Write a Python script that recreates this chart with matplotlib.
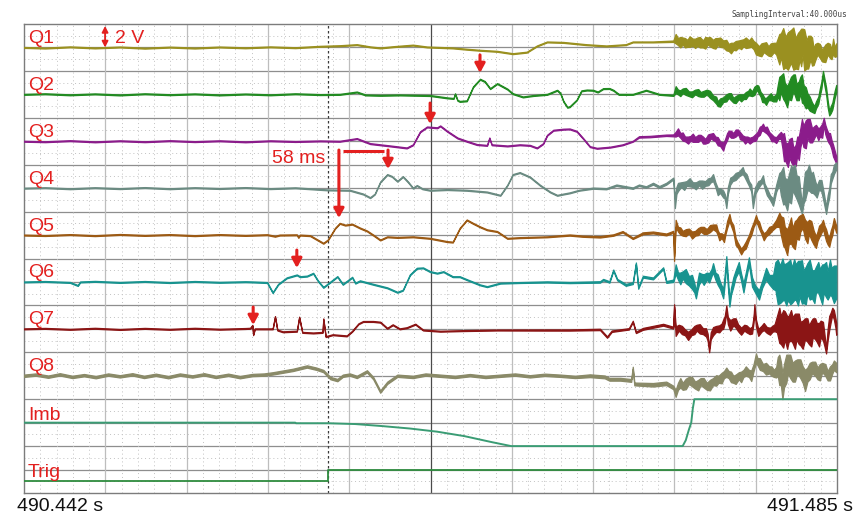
import numpy as np
import matplotlib
matplotlib.use("Agg")
import matplotlib.pyplot as plt

plt.rcParams['font.family'] = ['Liberation Sans', 'DejaVu Sans']

# ---------------- data ----------------
T_LEFT_LABEL = "490.442 s"
T_RIGHT_LABEL = "491.485 s"
SPAN_MS = 1043.0          # 491.485 s - 490.442 s
TRIGGER_MS = 390
SAMPLING = "SamplingInterval:40.000us"

CHANNELS = ["Q1", "Q2", "Q3", "Q4", "Q5", "Q6", "Q7", "Q8", "Imb", "Trig"]
COLORS = ["#9a9020", "#228b22", "#8b1c8b", "#6b8b82", "#9c5a14",
          "#18938f", "#8b1515", "#8a8a68", "#3a9c74", "#2e8b3e"]

# each entry: (time in ms from 490.442 s, value in V, noise half-width in V)
Q1 = [(0, 0.0, 0.04), (27, -0.05, 0.04), (59, 0.05, 0.04), (91, -0.04, 0.04), (123, 0.04, 0.04),
      (155, -0.06, 0.04), (187, 0.03, 0.04), (219, -0.05, 0.04), (251, 0.04, 0.04), (284, -0.03, 0.04),
      (316, 0.05, 0.04), (348, -0.02, 0.04), (380, 0.1, 0.04), (405, 0.15, 0.04), (427, 0.24, 0.04),
      (444, 0.05, 0.04), (457, -0.04, 0.04), (476, 0.08, 0.04), (499, 0.2, 0.04), (517, 0.04, 0.04),
      (534, 0.0, 0.04), (550, -0.04, 0.04), (568, -0.15, 0.04), (585, -0.24, 0.04), (607, -0.33, 0.04),
      (627, -0.53, 0.04), (645, -0.4, 0.04), (658, 0.13, 0.04), (671, 0.47, 0.04), (692, 0.43, 0.04),
      (721, 0.24, 0.04), (747, 0.13, 0.04), (772, 0.24, 0.04), (781, 0.47, 0.04), (807, 0.47, 0.04),
      (833, 0.53, 0.06),
      (836, 0.75, 0.4), (839, 0.5, 0.3), (842, 0.45, 0.45), (845, 0.55, 0.3), (848, 0.4, 0.4),
      (851, 0.35, 0.3), (854, 0.5, 0.45), (858, 0.45, 0.3), (861, 0.35, 0.4), (864, 0.5, 0.35),
      (867, 0.45, 0.45), (871, 0.3, 0.3), (874, 0.4, 0.5), (877, 0.55, 0.3), (880, 0.5, 0.4),
      (884, 0.3, 0.35), (887, 0.35, 0.45), (890, 0.5, 0.3), (893, 0.45, 0.4), (897, 0.3, 0.3),
      (901, 0.2, 0.45), (904, 0.0, 0.3), (907, -0.05, 0.45), (910, 0.1, 0.3), (913, 0.15, 0.4),
      (917, 0.3, 0.3), (920, 0.25, 0.4), (923, 0.4, 0.3), (926, 0.4, 0.45), (930, 0.3, 0.3),
      (933, 0.45, 0.4), (936, 0.2, 0.35), (939, -0.1, 0.5), (943, -0.3, 0.4), (946, -0.2, 0.55),
      (949, 0.0, 0.4), (952, -0.05, 0.5), (955, -0.3, 0.4), (958, -0.2, 0.55), (962, 0.0, 0.4),
      (965, -0.1, 0.5), (969, -0.15, 1.3), (971, 0.2, 1.0), (974, -0.1, 1.75), (977, -0.4, 1.3),
      (980, -0.3, 1.6), (984, 0.1, 1.4), (987, -0.1, 1.8), (990, -0.5, 1.3), (993, -0.3, 1.55),
      (995, 0.2, 1.2), (997, 0.0, 1.6), (999, 0.5, 1.1), (1001, -0.2, 1.75), (1004, -0.6, 1.2),
      (1006, -0.4, 1.4), (1009, 0.0, 1.0), (1011, -0.35, 1.2), (1013, -0.8, 0.7), (1015, -0.4, 0.7),
      (1018, -0.1, 0.5), (1021, -0.3, 0.6), (1024, -0.7, 0.5), (1028, -0.5, 0.75), (1031, -0.1, 0.5),
      (1034, -0.3, 0.6), (1036, -0.6, 0.4), (1038, 0.1, 0.65), (1040, -0.4, 0.4), (1042, -0.2, 0.55)]

Q2 = [(0, 0.0, 0.04), (27, 0.05, 0.04), (59, -0.04, 0.04), (91, 0.04, 0.04), (123, -0.05, 0.04),
      (155, 0.05, 0.04), (187, -0.03, 0.04), (219, 0.04, 0.04), (251, -0.05, 0.04), (284, 0.03, 0.04),
      (316, -0.04, 0.04), (348, 0.05, 0.04), (380, -0.02, 0.04), (405, 0.0, 0.04), (427, 0.2, 0.04),
      (438, -0.05, 0.04), (457, -0.08, 0.04), (482, -0.05, 0.04), (521, -0.1, 0.04), (543, -0.3, 0.04),
      (551, -0.35, 0.04), (553, 0.05, 0.04), (556, -0.5, 0.04), (559, -0.6, 0.04), (568, -0.55, 0.04),
      (576, 0.63, 0.04), (585, 1.29, 0.04), (591, 1.1, 0.04), (598, 0.49, 0.04), (607, 0.92, 0.04),
      (620, 0.45, 0.04), (627, 0.06, 0.04), (640, -0.22, 0.04), (653, -0.1, 0.04), (671, 0.0, 0.04),
      (684, 0.35, 0.04), (688, 0.1, 0.04), (692, -0.6, 0.04), (697, -1.1, 0.04), (700, -1.05, 0.04),
      (709, -0.48, 0.04), (715, 0.3, 0.04), (722, 0.37, 0.04), (730, 0.35, 0.04), (736, 0.2, 0.04),
      (743, 0.49, 0.04), (751, 0.5, 0.04), (756, 0.35, 0.04), (763, 0.0, 0.04), (772, 0.0, 0.04),
      (781, 0.0, 0.04), (798, 0.35, 0.04), (815, 0.0, 0.04), (833, -0.08, 0.05),
      (836, 0.4, 0.3), (839, 0.2, 0.2), (842, 0.1, 0.25), (845, 0.3, 0.2), (849, 0.25, 0.3),
      (853, 0.05, 0.2), (857, 0.0, 0.25), (861, 0.2, 0.2), (865, 0.15, 0.3), (868, 0.0, 0.2),
      (872, 0.05, 0.25), (876, 0.2, 0.2), (880, 0.0, 0.3), (884, -0.3, 0.2), (888, -0.5, 0.3),
      (890, -0.8, 0.2), (893, -0.7, 0.35), (897, -0.45, 0.2), (901, -0.3, 0.3), (904, -0.1, 0.2),
      (907, -0.2, 0.3), (910, -0.5, 0.2), (913, -0.45, 0.3), (917, -0.2, 0.2), (920, -0.3, 0.3),
      (923, -0.2, 0.2), (926, -0.1, 0.3), (929, 0.1, 0.2), (931, 0.2, 0.3), (934, 0.05, 0.2),
      (937, 0.3, 0.35), (940, 0.6, 0.2), (942, 0.45, 0.3), (945, 0.0, 0.2), (947, -0.3, 0.35),
      (950, -0.5, 0.2), (952, -0.6, 0.3), (955, -0.3, 0.2), (958, -0.2, 0.3), (961, -0.4, 0.2),
      (965, -0.3, 0.3), (967, 0.3, 0.5), (969, 0.5, 1.0), (971, 0.9, 0.7), (974, 0.7, 1.1),
      (976, 0.2, 0.8), (979, -0.2, 0.9), (981, 0.3, 0.7), (984, 0.5, 1.0), (987, 1.0, 0.7),
      (989, 0.8, 0.9), (991, 0.2, 0.7), (994, 0.3, 0.8), (996, 0.8, 0.7), (998, 0.5, 1.2),
      (1000, 0.0, 0.8), (1003, -0.3, 0.9), (1005, -0.5, 0.6), (1008, -0.8, 0.6), (1011, -1.1, 0.4),
      (1014, -1.3, 0.3), (1016, -0.9, 0.3), (1019, -0.5, 0.3), (1021, 0.2, 0.3), (1023, 0.8, 0.3),
      (1025, 1.8, 0.2), (1027, 1.0, 0.3), (1029, 0.3, 0.3), (1031, -0.8, 0.3), (1033, -1.6, 0.2),
      (1035, -1.3, 0.3), (1037, -1.0, 0.3), (1040, 0.0, 0.3), (1042, 0.5, 0.3)]

Q3 = [(0, 0.0, 0.04), (27, -0.04, 0.04), (59, 0.05, 0.04), (91, -0.05, 0.04), (123, 0.04, 0.04),
      (155, -0.04, 0.04), (187, 0.05, 0.04), (219, -0.03, 0.04), (251, 0.04, 0.04), (284, -0.05, 0.04),
      (316, 0.04, 0.04), (348, -0.02, 0.04), (380, 0.03, 0.04), (405, 0.0, 0.04), (427, 0.23, 0.04),
      (444, -0.2, 0.04), (470, -0.4, 0.04), (491, -0.57, 0.04), (499, -0.3, 0.04), (508, 0.8, 0.04),
      (517, 1.22, 0.04), (530, 1.15, 0.04), (534, 1.31, 0.04), (543, 0.85, 0.04), (556, 0.28, 0.04),
      (568, 0.0, 0.04), (581, -0.28, 0.04), (594, -0.35, 0.04), (597, 0.28, 0.04), (600, -0.3, 0.04),
      (620, -0.4, 0.04), (636, -0.3, 0.04), (649, -0.35, 0.04), (658, -0.57, 0.04), (666, -0.2, 0.04),
      (671, 0.51, 0.04), (679, 0.94, 0.04), (692, 1.03, 0.04), (700, 1.05, 0.04), (709, 0.85, 0.04),
      (717, 0.26, 0.04), (726, -0.46, 0.04), (735, -0.6, 0.04), (752, -0.5, 0.04), (768, -0.3, 0.04),
      (781, 0.0, 0.04), (789, 0.37, 0.06), (803, 0.4, 0.06), (824, 0.51, 0.06), (833, 0.5, 0.08),
      (836, 0.6, 0.2), (839, 0.8, 0.3), (842, 0.5, 0.2), (845, 0.4, 0.35), (848, 0.2, 0.2),
      (852, 0.1, 0.3), (855, 0.25, 0.2), (858, 0.3, 0.35), (861, 0.15, 0.2), (865, 0.25, 0.3),
      (868, 0.35, 0.2), (871, 0.1, 0.3), (874, 0.0, 0.2), (878, 0.25, 0.35), (881, 0.45, 0.2),
      (884, 0.4, 0.3), (887, 0.2, 0.2), (890, 0.0, 0.35), (893, -0.2, 0.2), (897, -0.45, 0.35),
      (899, -0.1, 0.2), (902, 0.4, 0.3), (904, 0.7, 0.2), (907, 0.6, 0.3), (910, 0.5, 0.2),
      (913, 0.7, 0.3), (916, 0.8, 0.2), (919, 0.45, 0.3), (922, 0.3, 0.2), (925, 0.1, 0.3),
      (928, 0.2, 0.2), (931, 0.05, 0.25), (935, 0.2, 0.2), (939, 0.35, 0.3), (941, 0.6, 0.2),
      (944, 0.9, 0.35), (946, 1.1, 0.2), (948, 1.2, 0.3), (950, 1.0, 0.2), (953, 0.95, 0.3),
      (956, 0.6, 0.2), (959, 0.3, 0.3), (962, 0.2, 0.2), (965, 0.1, 0.25), (968, 0.4, 0.2),
      (971, 0.5, 0.3), (973, 0.0, 0.6), (975, -0.5, 1.2), (977, -0.9, 0.8), (980, -1.2, 1.0),
      (982, -0.6, 0.8), (985, -0.8, 1.1), (987, -1.3, 0.7), (990, -1.2, 0.9), (992, -0.4, 0.8),
      (994, -0.6, 1.0), (996, 0.3, 0.8), (998, 1.0, 0.9), (1000, 0.4, 0.9), (1003, 0.6, 1.2),
      (1005, 1.1, 0.8), (1008, 0.9, 1.0), (1011, 0.5, 0.6), (1014, 0.8, 0.5), (1016, 1.0, 0.4),
      (1019, 0.6, 0.5), (1021, 0.8, 0.4), (1024, 0.9, 0.6), (1026, 1.7, 0.3), (1028, 1.0, 0.4),
      (1030, 0.6, 0.4), (1032, 0.3, 0.4), (1034, 0.2, 0.5), (1036, -0.3, 0.4), (1038, -0.8, 0.5),
      (1040, -1.2, 0.4), (1042, -1.6, 0.3)]

Q4 = [(0, 0.0, 0.04), (27, 0.04, 0.04), (59, -0.05, 0.04), (91, 0.04, 0.04), (123, -0.04, 0.04),
      (155, 0.05, 0.04), (187, -0.05, 0.04), (219, 0.04, 0.04), (251, -0.03, 0.04), (284, 0.05, 0.04),
      (316, -0.04, 0.04), (348, 0.03, 0.04), (390, -0.15, 0.04), (418, -0.18, 0.04), (435, -0.5, 0.04),
      (444, -0.81, 0.04), (450, -0.5, 0.04), (457, 0.53, 0.04), (466, 1.16, 0.04), (472, 1.0, 0.04),
      (479, 0.59, 0.04), (486, 0.99, 0.04), (493, 0.5, 0.04), (499, 0.0, 0.04), (504, 0.23, 0.04),
      (511, -0.05, 0.04), (521, -0.18, 0.04), (543, -0.12, 0.04), (568, -0.18, 0.04), (594, -0.33, 0.04),
      (611, -0.61, 0.04), (620, 0.25, 0.04), (627, 1.16, 0.04), (636, 1.33, 0.04), (649, 0.95, 0.04),
      (662, 0.25, 0.04), (675, -0.33, 0.04), (684, -0.61, 0.04), (692, -0.5, 0.04), (700, -0.4, 0.04),
      (712, -0.18, 0.04), (730, 0.0, 0.05), (747, -0.05, 0.05), (760, 0.25, 0.06), (781, 0.0, 0.06),
      (789, 0.25, 0.06), (798, 0.1, 0.06), (807, 0.38, 0.08), (815, 0.1, 0.08), (824, 0.38, 0.08),
      (833, 0.82, 0.08),
      (835, -1.3, 0.4), (837, -0.2, 0.3), (839, 0.1, 0.35), (843, 0.3, 0.2), (847, 0.2, 0.35),
      (850, 0.4, 0.2), (854, 0.5, 0.35), (858, 0.3, 0.2), (862, 0.2, 0.3), (866, 0.45, 0.2),
      (870, 0.3, 0.35), (874, 0.4, 0.2), (878, 0.55, 0.3), (881, 0.7, 0.2), (884, 0.9, 0.3),
      (887, 0.3, 0.2), (890, -0.3, 0.3), (893, -0.2, 0.2), (897, -0.5, 0.3), (899, -0.7, 0.2),
      (901, -1.4, 0.3), (903, -0.2, 0.3), (906, 0.6, 0.3), (909, 0.8, 0.2), (913, 1.0, 0.3),
      (917, 1.2, 0.2), (922, 1.5, 0.3), (924, 1.2, 0.2), (927, 0.9, 0.3), (930, 0.4, 0.2),
      (933, 0.0, 0.3), (935, -1.4, 0.3), (938, -0.2, 0.3), (942, 0.3, 0.3), (945, 0.5, 0.2),
      (948, 0.8, 0.3), (950, 0.2, 0.2), (953, -0.3, 0.3), (957, -0.8, 0.2), (961, -1.2, 0.3),
      (965, 0.0, 0.3), (969, 0.8, 0.5), (971, 0.4, 1.0), (974, 0.2, 1.6), (976, -0.2, 1.1),
      (979, -0.6, 1.3), (981, 0.0, 1.1), (984, 0.3, 1.6), (986, 0.8, 1.0), (989, 0.7, 1.3),
      (991, 0.1, 1.0), (994, -0.2, 1.2), (996, -1.0, 0.8), (998, -1.8, 0.4), (1000, -0.5, 0.8),
      (1002, 0.2, 1.2), (1005, 0.7, 0.9), (1007, 0.9, 1.1), (1010, 0.4, 0.8), (1012, 0.5, 0.9),
      (1015, 0.0, 0.6), (1017, -0.3, 0.5), (1020, 0.3, 0.4), (1023, 0.2, 0.5), (1026, -0.8, 0.4),
      (1029, -1.9, 0.3), (1031, -1.0, 0.4), (1033, -0.4, 0.4), (1035, 0.8, 0.4), (1037, 1.1, 0.3),
      (1039, 1.6, 0.4), (1042, 1.9, 0.3)]

Q5 = [(0, 0.0, 0.04), (27, -0.04, 0.04), (59, 0.04, 0.04), (91, -0.05, 0.04), (123, 0.05, 0.04),
      (155, -0.03, 0.04), (187, 0.04, 0.04), (219, -0.05, 0.04), (251, 0.04, 0.04), (284, -0.03, 0.04),
      (312, 0.03, 0.04), (322, -0.1, 0.04), (328, 0.0, 0.04), (350, 0.02, 0.04), (352, -0.2, 0.04),
      (354, 0.0, 0.04), (367, -0.05, 0.04), (384, -0.7, 0.04), (390, -0.4, 0.04), (399, 0.58, 0.04),
      (405, 1.0, 0.04), (412, 0.85, 0.04), (421, 0.93, 0.04), (431, 0.6, 0.04), (440, 0.35, 0.04),
      (448, 0.0, 0.04), (457, -0.42, 0.04), (466, -0.15, 0.04), (479, -0.2, 0.04), (499, -0.15, 0.04),
      (521, -0.28, 0.04), (543, -0.56, 0.04), (550, -0.6, 0.04), (559, 0.58, 0.04), (568, 1.29, 0.04),
      (576, 1.0, 0.04), (585, 0.7, 0.04), (594, 0.45, 0.04), (607, 0.3, 0.04), (620, -0.28, 0.04),
      (636, -0.22, 0.04), (671, -0.15, 0.04), (700, 0.0, 0.05), (717, -0.1, 0.05), (739, -0.15, 0.06),
      (756, 0.0, 0.06), (768, 0.28, 0.06), (781, -0.28, 0.06), (794, 0.15, 0.08), (807, 0.22, 0.08),
      (824, 0.05, 0.08), (833, 0.28, 0.08),
      (834, -2.0, 0.2), (836, 1.0, 0.3), (839, 0.5, 0.2), (842, 0.35, 0.3), (845, 0.15, 0.2),
      (849, 0.2, 0.3), (853, 0.35, 0.2), (857, 0.0, 0.3), (861, 0.15, 0.2), (865, 0.3, 0.3),
      (868, 0.5, 0.2), (872, 0.4, 0.3), (876, 0.3, 0.2), (880, 0.55, 0.3), (884, 0.7, 0.2),
      (888, 0.6, 0.3), (890, 0.2, 0.2), (892, -0.15, 0.3), (895, -0.05, 0.2), (898, -0.3, 0.3),
      (900, 0.3, 0.2), (902, 0.9, 0.3), (905, 1.5, 0.3), (907, 1.0, 0.2), (910, 0.55, 0.3),
      (913, -0.55, 0.3), (916, -0.9, 0.2), (920, -1.4, 0.25), (923, -1.1, 0.2), (926, -0.85, 0.3),
      (930, -0.2, 0.2), (933, 0.3, 0.3), (936, 0.9, 0.2), (939, 1.4, 0.3), (941, 1.1, 0.2),
      (943, 0.85, 0.3), (946, 0.3, 0.2), (949, -0.15, 0.3), (952, 0.1, 0.2), (956, 0.4, 0.3),
      (960, 0.6, 0.2), (965, 1.0, 0.3), (969, 1.3, 0.6), (971, 0.8, 0.8), (974, 0.3, 1.2),
      (976, -0.2, 0.9), (979, -0.6, 1.1), (981, 0.0, 0.8), (984, 0.4, 1.1), (986, -0.2, 0.8),
      (989, 0.0, 1.2), (991, 0.5, 0.8), (994, 0.6, 1.0), (996, 1.0, 0.7), (999, 1.2, 0.6),
      (1002, 0.5, 0.8), (1005, 0.2, 0.9), (1007, 0.7, 0.6), (1010, 0.4, 0.8), (1013, -0.2, 0.6),
      (1016, -0.6, 0.5), (1018, -0.1, 0.4), (1020, 0.3, 0.5), (1023, 0.6, 0.4), (1025, 0.9, 0.4),
      (1027, 0.4, 0.4), (1029, 0.0, 0.5), (1031, -0.4, 0.4), (1033, -0.6, 0.4), (1035, 0.0, 0.4),
      (1037, 0.4, 0.4), (1039, 1.15, 0.3), (1042, 0.5, 0.3)]

Q6 = [(0, 0.0, 0.04), (27, 0.04, 0.04), (59, -0.04, 0.04), (69, -0.3, 0.04), (72, 0.0, 0.04),
      (91, 0.05, 0.04), (123, -0.04, 0.04), (155, 0.04, 0.04), (187, -0.05, 0.04), (219, 0.04, 0.04),
      (251, -0.03, 0.04), (284, 0.02, 0.04), (294, 0.0, 0.04), (312, -0.05, 0.04), (319, -0.91, 0.04),
      (326, -0.2, 0.04), (337, 0.35, 0.04), (350, 0.6, 0.04), (354, 0.45, 0.04), (363, 0.5, 0.04),
      (371, 0.74, 0.04), (377, 0.1, 0.04), (384, -0.46, 0.04), (393, 0.0, 0.04), (402, 0.46, 0.04),
      (409, -0.2, 0.04), (421, 0.4, 0.04), (425, -0.1, 0.04), (431, 0.1, 0.04), (448, -0.2, 0.04),
      (466, -0.5, 0.04), (479, -0.88, 0.04), (486, -0.7, 0.04), (495, 0.6, 0.04), (504, 1.17, 0.04),
      (512, 1.2, 0.04), (521, 0.88, 0.04), (530, 0.75, 0.04), (538, 0.88, 0.04), (550, 0.45, 0.04),
      (559, 0.45, 0.04), (568, 0.2, 0.04), (585, -0.25, 0.04), (594, -0.4, 0.04), (611, -0.1, 0.04),
      (636, -0.05, 0.04), (671, 0.0, 0.05), (700, -0.05, 0.05), (739, 0.0, 0.06), (743, 0.2, 0.06),
      (751, 0.0, 0.06), (756, 1.0, 0.06), (761, 0.2, 0.06), (772, -0.25, 0.08), (781, -0.1, 0.08),
      (785, 1.6, 0.06), (788, -0.5, 0.08), (794, 0.45, 0.08), (807, 0.3, 0.08), (820, 1.17, 0.08),
      (824, 0.0, 0.08), (833, 0.1, 0.1),
      (836, 1.1, 0.4), (839, 0.5, 0.3), (842, 0.3, 0.5), (845, 0.6, 0.3), (849, 0.5, 0.6),
      (853, 0.1, 0.4), (857, 0.0, 0.6), (860, -0.5, 0.4), (862, -1.1, 0.3), (864, -0.3, 0.4),
      (866, 0.3, 0.5), (869, 0.4, 0.3), (872, 0.2, 0.45), (876, 0.5, 0.3), (879, 0.35, 0.4),
      (882, 0.8, 0.3), (884, 1.2, 0.4), (887, 0.5, 0.3), (890, 0.2, 0.45), (893, -0.3, 0.3),
      (897, -1.0, 0.4), (899, 0.3, 0.4), (901, 1.9, 0.3), (903, 0.0, 0.4), (905, -1.8, 0.3),
      (907, -0.8, 0.3), (910, 0.0, 0.4), (913, 0.7, 0.3), (917, 1.3, 0.4), (920, 0.4, 0.3),
      (923, -0.5, 0.4), (926, 0.5, 0.3), (930, 1.8, 0.3), (932, 0.9, 0.3), (934, 0.0, 0.4),
      (938, -0.6, 0.3), (943, -1.1, 0.4), (947, -0.2, 0.3), (952, 0.7, 0.5), (956, 0.2, 0.4),
      (961, 0.0, 0.6), (964, 0.5, 1.2), (967, 0.0, 1.9), (970, -0.2, 1.6), (973, 0.2, 1.8),
      (975, 0.0, 1.5), (978, -0.2, 1.8), (980, 0.1, 1.6), (983, 0.0, 1.9), (985, -0.3, 1.5),
      (988, 0.2, 1.75), (990, 0.0, 1.5), (993, -0.1, 1.9), (995, 0.3, 1.5), (998, 0.0, 1.85),
      (1000, -0.4, 1.4), (1003, -0.3, 1.6), (1005, 0.3, 1.3), (1008, 0.2, 1.7), (1011, -0.2, 1.2),
      (1014, -0.4, 1.4), (1016, 0.2, 1.1), (1019, 0.4, 1.3), (1021, -0.1, 1.2), (1024, -0.2, 1.7),
      (1026, 0.3, 1.2), (1029, 0.2, 1.5), (1031, -0.3, 1.2), (1034, 0.4, 1.5), (1036, 0.0, 1.2),
      (1039, -0.2, 1.6), (1042, 0.0, 1.4)]

Q7 = [(0, 0.0, 0.04), (27, 0.04, 0.04), (59, -0.04, 0.04), (91, 0.05, 0.04), (123, -0.05, 0.04),
      (155, 0.04, 0.04), (187, -0.04, 0.04), (219, 0.05, 0.04), (251, -0.03, 0.04), (284, 0.03, 0.04),
      (290, 0.05, 0.04), (293, 0.3, 0.04), (294, -0.5, 0.04), (296, 0.0, 0.04), (319, 0.0, 0.04),
      (322, 1.05, 0.04), (325, -0.1, 0.04), (332, -0.25, 0.04), (350, -0.2, 0.04), (353, 1.0, 0.04),
      (357, -0.3, 0.04), (371, -0.35, 0.04), (383, -0.3, 0.04), (384, 0.85, 0.04), (387, -0.66, 0.04),
      (396, -0.5, 0.04), (414, -0.6, 0.04), (421, -0.2, 0.04), (429, 0.43, 0.04), (435, 0.63, 0.04),
      (448, 0.63, 0.04), (457, 0.57, 0.04), (466, 0.05, 0.04), (473, 0.35, 0.04), (482, 0.0, 0.04),
      (491, 0.1, 0.04), (502, 0.4, 0.04), (512, -0.1, 0.04), (534, -0.2, 0.04), (563, -0.15, 0.04),
      (607, -0.1, 0.04), (671, -0.1, 0.05), (700, -0.1, 0.05), (739, -0.05, 0.06), (748, -0.7, 0.06),
      (754, -0.2, 0.06), (776, 0.0, 0.06), (781, 0.63, 0.06), (785, -0.3, 0.06), (794, 0.0, 0.08),
      (820, 0.35, 0.08), (833, 0.1, 0.08),
      (834, 2.0, 0.1), (836, -0.2, 0.4), (840, 0.1, 0.25), (844, -0.1, 0.35), (848, -0.3, 0.25),
      (852, -0.6, 0.35), (856, -0.3, 0.25), (860, -0.1, 0.35), (863, 0.1, 0.25), (867, 0.0, 0.4),
      (871, -0.2, 0.25), (875, -0.3, 0.35), (877, -0.7, 0.3), (879, -1.8, 0.2), (881, -0.6, 0.3),
      (884, -0.2, 0.35), (888, 0.0, 0.25), (892, 0.0, 0.3), (895, 0.2, 0.25), (897, 0.4, 0.4),
      (899, 0.8, 0.3), (901, 1.7, 0.3), (903, 0.7, 0.3), (906, 0.3, 0.45), (910, 0.6, 0.3),
      (913, 0.5, 0.4), (916, 0.1, 0.3), (920, -0.2, 0.3), (924, 0.1, 0.25), (927, 0.0, 0.3),
      (931, -0.2, 0.25), (934, -0.1, 0.3), (936, 0.8, 0.25), (937, 1.9, 0.2), (939, 0.5, 0.3),
      (942, -0.3, 0.3), (946, 0.0, 0.25), (949, 0.2, 0.3), (953, -0.1, 0.25), (957, -0.2, 0.3),
      (960, 0.0, 0.25), (963, 0.1, 0.3), (966, 0.4, 0.7), (969, 0.3, 1.5), (971, -0.1, 1.2),
      (974, 0.0, 1.6), (976, 0.3, 1.2), (979, -0.3, 1.4), (981, 0.0, 1.1), (984, 0.3, 1.3),
      (986, -0.1, 1.1), (989, -0.2, 1.5), (991, 0.2, 1.1), (994, 0.0, 1.3), (996, -0.4, 1.0),
      (999, -0.5, 1.2), (1002, 0.0, 0.9), (1005, -0.1, 1.0), (1007, -0.5, 0.8), (1010, -0.4, 1.1),
      (1012, 0.1, 0.8), (1015, 0.0, 0.9), (1017, -0.3, 0.8), (1020, -0.5, 1.0), (1022, 0.0, 0.7),
      (1025, -0.2, 0.8), (1027, -1.0, 0.5), (1029, -1.9, 0.2), (1031, -0.5, 0.5), (1033, 0.5, 0.6),
      (1035, 1.0, 0.4), (1037, 1.5, 0.3), (1039, 1.2, 0.4), (1041, 0.5, 0.4), (1042, 0.0, 0.5)]

Q8 = [(0, 0.0, 0.1), (15, 0.1, 0.1), (31, -0.08, 0.1), (46, 0.12, 0.1), (62, -0.1, 0.1),
      (77, 0.05, 0.1), (92, -0.12, 0.1), (108, 0.1, 0.1), (123, -0.05, 0.1), (139, 0.12, 0.1),
      (154, -0.1, 0.1), (169, 0.08, 0.1), (185, -0.12, 0.1), (200, 0.1, 0.1), (216, -0.06, 0.1),
      (231, 0.12, 0.1), (246, -0.1, 0.1), (262, 0.08, 0.1), (277, -0.12, 0.1), (293, 0.06, 0.1),
      (308, 0.1, 0.1), (319, 0.2, 0.1), (332, 0.35, 0.1), (345, 0.5, 0.1), (363, 0.79, 0.1),
      (375, 0.6, 0.1), (384, 0.4, 0.1), (393, -0.2, 0.1), (402, -0.37, 0.1), (409, 0.0, 0.1),
      (418, 0.1, 0.1), (427, -0.1, 0.1), (440, 0.37, 0.1), (448, -0.2, 0.1), (457, -1.35, 0.1),
      (466, -0.6, 0.1), (479, 0.0, 0.1), (499, -0.1, 0.1), (515, 0.1, 0.1), (534, 0.0, 0.1),
      (553, -0.1, 0.1), (572, 0.05, 0.1), (592, -0.1, 0.1), (611, 0.0, 0.1), (630, 0.1, 0.1),
      (649, -0.05, 0.1), (668, 0.08, 0.1), (688, 0.0, 0.1), (707, -0.1, 0.1), (726, 0.0, 0.12),
      (745, -0.1, 0.12), (751, -0.3, 0.12), (765, -0.3, 0.12), (779, -0.4, 0.12), (781, 0.67, 0.1),
      (783, -0.7, 0.12), (807, -0.77, 0.15), (824, -0.65, 0.15), (833, -1.0, 0.15),
      (836, -1.5, 0.3), (839, -0.9, 0.3), (842, -0.6, 0.4), (845, -0.9, 0.3), (849, -0.7, 0.45),
      (853, -0.4, 0.3), (857, -0.5, 0.4), (861, -0.8, 0.3), (865, -0.8, 0.45), (868, -0.5, 0.3),
      (872, -0.6, 0.4), (876, -0.9, 0.3), (880, -0.8, 0.45), (884, -0.5, 0.3), (888, -0.4, 0.45),
      (891, -0.3, 0.3), (895, -0.2, 0.45), (898, 0.1, 0.3), (901, 0.3, 0.4), (904, 0.1, 0.3),
      (907, -0.1, 0.45), (910, -0.3, 0.3), (913, -0.3, 0.4), (917, 0.0, 0.3), (920, -0.1, 0.45),
      (923, 0.2, 0.3), (926, 0.4, 0.4), (930, 0.2, 0.3), (933, 0.0, 0.45), (936, 0.7, 0.3),
      (939, 1.5, 0.4), (941, 1.2, 0.3), (944, 1.0, 0.5), (948, 0.7, 0.3), (952, 0.6, 0.5),
      (956, 0.5, 0.3), (959, 0.4, 0.4), (962, 0.2, 0.3), (965, 0.3, 0.45), (967, 0.8, 0.8),
      (969, 0.5, 1.3), (971, 0.2, 1.0), (973, -0.9, 1.1), (975, 0.0, 1.0), (978, 0.6, 1.2),
      (980, 1.0, 0.8), (983, 0.8, 1.0), (986, 0.3, 0.8), (989, 0.4, 0.9), (992, 0.8, 0.6),
      (996, 0.6, 0.8), (999, 0.1, 0.7), (1002, -0.4, 0.9), (1005, 0.1, 0.6), (1008, 0.4, 0.7),
      (1011, 0.7, 0.5), (1015, 0.6, 0.6), (1018, 0.2, 0.5), (1021, 0.3, 0.7), (1024, 0.7, 0.4),
      (1028, 0.5, 0.5), (1031, 0.0, 0.4), (1034, 0.2, 0.6), (1037, 0.6, 0.4), (1039, 0.9, 0.4),
      (1042, 0.7, 0.4)]

IMB_T = [0, 348, 349, 390, 425, 459, 495, 530, 565, 600, 625, 845, 849, 853, 856, 858, 860, 1043]
IMB_V = [0.0, 0.0, -0.05, -0.05, -0.12, -0.29, -0.5, -0.77, -1.15, -1.66, -2.0, -2.0, -1.5, -0.6,
         0.0, 1.2, 2.0, 2.0]

TRIG_T = [0, 390, 390, 1043]
TRIG_V = [-1.0, -1.0, 0.0, 0.0]

# red markers: (channel, time ms, arrow top V, arrow tip V) relative to channel baseline
ARROWS = [("Q2", 585, 3.36, 1.82), ("Q3", 521, 3.26, 1.47), ("Q4", 467, 3.25, 1.63),
          ("Q5", 404, 7.25, 1.45), ("Q6", 350, 2.72, 1.19), ("Q7", 294, 1.86, 0.33)]
BRACKET = ("Q4", 409, 462, 3.17)        # channel, t from, t to, level (V)
DELAY_TEXT = ("58 ms", "Q4", 386, 2.12)  # text, channel, right edge t, baseline V
SCALE_BAR = ("2 V", "Q1", 104, 0.0, 1.83)

RED = "#e3201f"

# ---------------- figure ----------------
fig = plt.figure(figsize=(8.56, 5.16), dpi=100)
ax = fig.add_axes([24 / 856, 23 / 516, 813 / 856, 469 / 516])
ax.set_xlim(0, SPAN_MS)
n_band = len(CHANNELS)
ax.set_ylim(0, 4 * n_band)
ax.set_xticks([])
ax.set_yticks([])
for s in ax.spines.values():
    s.set_color("#7c7c7c")
    s.set_linewidth(1.0)


def base(name):
    i = CHANNELS.index(name)
    return 4 * n_band - 2 - 4 * i


# grid
for y in range(1, 4 * n_band):
    if y % 2 == 0:
        ax.axhline(y, color="#8e8e8e", lw=0.9, zorder=1)
    else:
        ax.axhline(y, color="#c2c2c2", lw=0.7, ls=(0, (1, 3)), zorder=1)
minor = SPAN_MS / 50
for j in range(1, 50):
    x = j * minor
    if j == 25:
        ax.axvline(x, color="#4a4a4a", lw=0.9, zorder=1)
    elif j % 5 == 0:
        ax.axvline(x, color="#bdbdbd", lw=0.9, zorder=1)
    else:
        ax.axvline(x, color="#c2c2c2", lw=0.7, ls=(0, (1, 3)), zorder=1)
ax.axvline(TRIGGER_MS, color="#3a3a3a", lw=0.9, ls=(0, (2, 2)), zorder=1)

# traces
for name, data, col in zip(CHANNELS[:8], [Q1, Q2, Q3, Q4, Q5, Q6, Q7, Q8], COLORS[:8]):
    t, v, w = (np.array(a, dtype=float) for a in zip(*data))
    b = base(name)
    ax.fill_between(t, b + v - w, b + v + w, facecolor=col, edgecolor=col,
                    lw=0.9, zorder=3)

ax.plot(IMB_T, base("Imb") + np.array(IMB_V), color=COLORS[8], lw=1.4, zorder=3)
ax.plot(TRIG_T, base("Trig") + np.array(TRIG_V), color=COLORS[9], lw=1.3, zorder=3)

# channel labels
for name in CHANNELS:
    if name.startswith("Q"):
        off = 0.38
    elif name == "Imb":
        off = 0.23
    else:
        off = -0.64
    ax.text(5, base(name) + off, name, color=RED, fontsize=14, ha="left",
            va="baseline", zorder=5)

# arrows
for name, t, top, tip in ARROWS:
    b = base(name)
    ax.annotate("", xy=(t, b + tip), xytext=(t, b + top),
                arrowprops=dict(arrowstyle="-|>,head_length=0.55,head_width=0.3",
                                color=RED, lw=2.2, shrinkA=0, shrinkB=0),
                zorder=6)
bn, t0, t1, lev = BRACKET
ax.plot([t0, t1], [base(bn) + lev] * 2, color=RED, lw=2.2, solid_capstyle="butt", zorder=6)
txt, tn, tr, tb = DELAY_TEXT
ax.text(tr, base(tn) + tb, txt, color=RED, fontsize=14, ha="right", va="baseline", zorder=6)

sl, sn, st, s0, s1 = SCALE_BAR
b = base(sn)
ax.annotate("", xy=(st, b + s1), xytext=(st, b + s0),
            arrowprops=dict(arrowstyle="<|-|>,head_length=0.35,head_width=0.18",
                            color=RED, lw=1.3, shrinkA=0, shrinkB=0), zorder=6)
ax.text(st + 13, b + 0.38, sl, color=RED, fontsize=14, ha="left", va="baseline", zorder=6)

# outer texts
fig.text(17 / 856, 5 / 516, T_LEFT_LABEL, fontsize=14, ha="left", va="baseline", color="#111111")
fig.text(853 / 856, 5 / 516, T_RIGHT_LABEL, fontsize=14, ha="right", va="baseline", color="#111111")
fig.text(847 / 856, 1 - 14.5 / 516, SAMPLING, fontsize=5.6, ha="right", va="center",
         family="DejaVu Sans Mono", color="#444444")

fig.savefig("out.png", dpi=100, facecolor="white")
